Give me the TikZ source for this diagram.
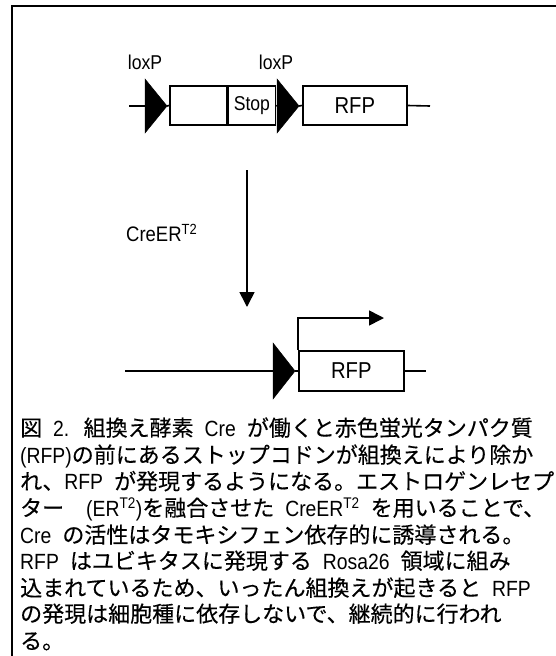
\documentclass[tikz,border=0pt]{standalone}
\usepackage{fontspec}
\setmainfont{Noto Sans CJK JP}[FakeBold=0.3]
\newfontfamily\latfont{Liberation Sans}[FakeStretch=0.88]
\newcommand{\Lt}[1]{{\latfont #1}}
\newcommand{\hs}{\hspace{0.5em}}
\usetikzlibrary{arrows.meta}
\tikzset{
  gbox/.style={draw, line width=1.6pt, minimum height=39pt, inner sep=0pt},
  wire/.style={line width=1.6pt},
  lox/.style={fill=black, draw=black, line width=0.5pt},
  lab/.style={font=\latfont\fontsize{20}{22}\selectfont, inner sep=0pt},
  captext/.style={font=\fontsize{22}{26}\selectfont, anchor=base west, inner sep=0pt},
  arr/.style={line width=1.6pt, -{Triangle[width=15pt,length=15pt]}}
}
\begin{document}
\begin{tikzpicture}[x=1pt,y=-1pt]
\useasboundingbox (0,0) rectangle (556,656);
% frame (cropped box: only top and left edges visible)
\draw[line width=2.5pt] (12,660) -- (12,6) -- (560,6);

% ---- top construct ----
\coordinate (l1s) at (129,106);
\coordinate (t1l) at (145,106);
\coordinate (t1r) at (167,106);
\fill[lox] (145,79) -- (167,106) -- (145,133) -- cycle;
\node[gbox, minimum width=57pt, anchor=west] (boxa) at (169,105.5) {};
\node[gbox, minimum width=47pt, anchor=west, font=\latfont\fontsize{20}{22}\selectfont] (stop) at (boxa.east) {Stop};
\coordinate (t2l) at (277,106);
\coordinate (t2r) at (299,106);
\fill[lox] (277,79) -- (299,106) -- (277,133) -- cycle;
\node[gbox, minimum width=104pt, anchor=west, font=\latfont\fontsize{23}{25}\selectfont] (rfp1) at (302,105.5) {RFP};
\coordinate (l1e) at (430,106);
\draw[wire] (l1s) -- (t1l);
\draw[wire] (t1r) -- (boxa.west);
\draw[wire] (stop.east) -- (t2l);
\draw[wire] (t2r) -- (rfp1.west);
\draw[wire] (rfp1.east) -- (l1e);
\node[lab] (lox1) at (145,62) {loxP};
\node[lab] (lox2) at (276,62) {loxP};

% ---- arrow ----
\coordinate (as) at (247,170);
\coordinate (ae) at (247,307);
\draw[arr] (as) -- (ae);
\node[font=\latfont\fontsize{21}{23}\selectfont, anchor=west, inner sep=0pt] (cre) at (126,233) {CreER\textsuperscript{T2}};

% ---- bottom construct ----
\coordinate (l2s) at (125,371);
\coordinate (t3l) at (273,371);
\coordinate (t3r) at (295,371);
\fill[lox] (273,343) -- (295,371) -- (273,399) -- cycle;
\node[gbox, minimum width=105pt, minimum height=40pt, anchor=west, font=\latfont\fontsize{23}{25}\selectfont] (rfp2) at (298,371) {RFP};
\coordinate (l2e) at (426,371);
\draw[wire] (l2s) -- (t3l);
\draw[wire] (t3r) -- (rfp2.west);
\draw[wire] (rfp2.east) -- (l2e);
\coordinate (prom) at (384,318);
\draw[arr] (rfp2.north west) |- (prom);

% ---- caption ----
\node[captext] (c1) at (20,436) {図\hs{}\Lt{2.}\hspace{0.65em}組換え酵素\hs{}\Lt{Cre}\hs{}が働くと赤色蛍光タンパク質};
\node[captext] (c2) at (20,463) {\Lt{(RFP)}の前にあるストップコドンが組換えにより除か};
\node[captext] (c3) at (20,489.5) {れ、\Lt{RFP}\hs{}が発現するようになる。エストロゲンレセプ};
\node[captext] (c4) at (20,516) {ター\hs{}\hs{}\Lt{(ER\textsuperscript{T2})}を融合させた\hs{}\Lt{CreER\textsuperscript{T2}}\hs{}を用いることで、};
\node[captext] (c5) at (20,543) {\Lt{Cre}\hs{}の活性はタモキシフェン依存的に誘導される。};
\node[captext] (c6) at (20,569) {\Lt{RFP}\hs{}はユビキタスに発現する\hs{}\Lt{Rosa26}\hs{}領域に組み};
\node[captext] (c7) at (20,596) {込まれているため、いったん組換えが起きると\hs{}\Lt{RFP}};
\node[captext] (c8) at (20,622) {の発現は細胞種に依存しないで、継続的に行われ};
\node[captext] (c9) at (20,649) {る。};
\end{tikzpicture}
\end{document}
